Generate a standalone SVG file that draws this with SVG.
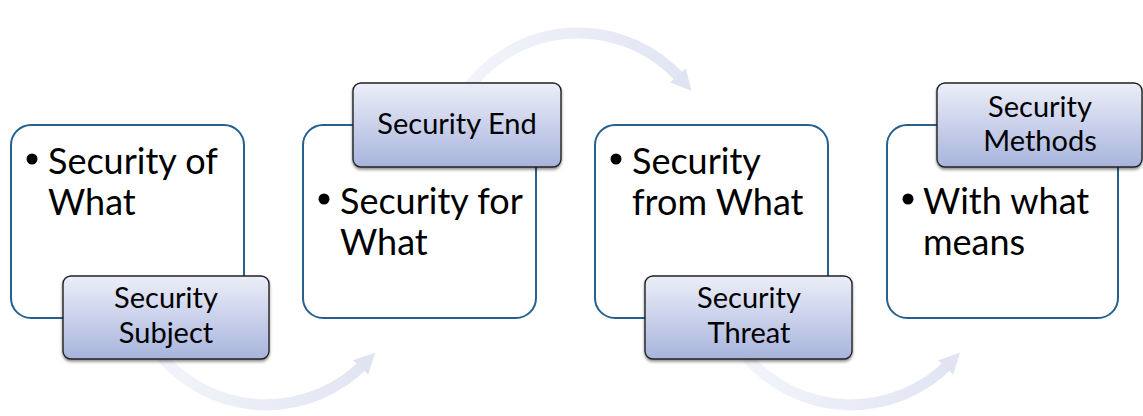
<svg xmlns="http://www.w3.org/2000/svg" width="1143" height="416" viewBox="0 0 1143 416">
  <style>
    .card { fill: #ffffff; stroke: #25608f; stroke-width: 2; }
    .tag { fill: url(#tagFill); stroke: #222222; stroke-width: 1.4; filter: url(#tagShadow); }
    .body { font-family: Lato, "Open Sans", sans-serif; font-size: 36px; fill: #000000; }
    .tagText { font-family: Lato, "Open Sans", sans-serif; font-size: 29px; fill: #000000; text-anchor: middle; }
    .arc { fill: none; stroke-width: 11; }
  </style>
  <defs>
    <linearGradient id="tagFill" x1="0" y1="0" x2="0" y2="1">
      <stop offset="0" stop-color="#eceef8"/>
      <stop offset="1" stop-color="#a8b4dd"/>
    </linearGradient>
    <filter id="tagShadow" x="-10%" y="-10%" width="120%" height="125%">
      <feGaussianBlur in="SourceAlpha" stdDeviation="1.5"/>
      <feOffset dx="0" dy="1.5" result="s"/>
      <feComponentTransfer><feFuncA type="linear" slope="0.45"/></feComponentTransfer>
      <feMerge><feMergeNode/><feMergeNode in="SourceGraphic"/></feMerge>
    </filter>
    <linearGradient id="arcTop" gradientUnits="userSpaceOnUse" x1="440" y1="0" x2="700" y2="0">
      <stop offset="0" stop-color="#f5f6fb"/>
      <stop offset="1" stop-color="#e0e4f2"/>
    </linearGradient>
    <linearGradient id="arcLow1" gradientUnits="userSpaceOnUse" x1="150" y1="0" x2="380" y2="0">
      <stop offset="0" stop-color="#f3f5fa"/>
      <stop offset="1" stop-color="#e0e4f2"/>
    </linearGradient>
    <linearGradient id="arcLow2" gradientUnits="userSpaceOnUse" x1="735" y1="0" x2="965" y2="0">
      <stop offset="0" stop-color="#f3f5fa"/>
      <stop offset="1" stop-color="#e0e4f2"/>
    </linearGradient>
    <marker id="head" viewBox="0 0 10 10" refX="3" refY="5" markerWidth="1.9" markerHeight="1.9" orient="auto" markerUnits="strokeWidth">
      <path d="M0,0 L10,5 L0,10 Z" fill="#e0e4f2"/>
    </marker>
  </defs>

  <!-- flow arcs between the cards -->
  <g id="connectors">
    <path class="arc" stroke="url(#arcTop)" d="M463,95 A138,138 0 0 1 682,80" marker-end="url(#head)"/>
    <path class="arc" stroke="url(#arcLow1)" d="M160,355 A138,138 0 0 0 365,363" marker-end="url(#head)"/>
    <path class="arc" stroke="url(#arcLow2)" d="M745,355 A138,138 0 0 0 950,363" marker-end="url(#head)"/>
  </g>

  <g id="node-subject">
    <rect class="card" x="11" y="125" width="233" height="193" rx="20"/>
    <circle cx="32" cy="159" r="5.5"/>
    <text class="body" x="48" y="174">Security of</text>
    <text class="body" x="48" y="215">What</text>
    <rect class="tag" x="63" y="276" width="206" height="83" rx="8"/>
    <text class="tagText" x="166" y="308">Security</text>
    <text class="tagText" x="166" y="343">Subject</text>
  </g>

  <g id="node-end">
    <rect class="card" x="303" y="125" width="233" height="193" rx="20"/>
    <circle cx="324" cy="199" r="5.5"/>
    <text class="body" x="340" y="214">Security for</text>
    <text class="body" x="340" y="255">What</text>
    <rect class="tag" x="353" y="83" width="208" height="84" rx="8"/>
    <text class="tagText" x="457" y="134">Security End</text>
  </g>

  <g id="node-threat">
    <rect class="card" x="595" y="125" width="233" height="193" rx="20"/>
    <circle cx="616" cy="159" r="5.5"/>
    <text class="body" x="632" y="174">Security</text>
    <text class="body" x="632" y="215">from What</text>
    <rect class="tag" x="645" y="276" width="207" height="83" rx="8"/>
    <text class="tagText" x="749" y="308">Security</text>
    <text class="tagText" x="749" y="343">Threat</text>
  </g>

  <g id="node-methods">
    <rect class="card" x="887" y="125" width="231" height="193" rx="20"/>
    <circle cx="908" cy="199" r="5.5"/>
    <text class="body" x="923" y="214">With what</text>
    <text class="body" x="923" y="255">means</text>
    <rect class="tag" x="937" y="83" width="205" height="84" rx="8"/>
    <text class="tagText" x="1040" y="117">Security</text>
    <text class="tagText" x="1040" y="151">Methods</text>
  </g>
</svg>
